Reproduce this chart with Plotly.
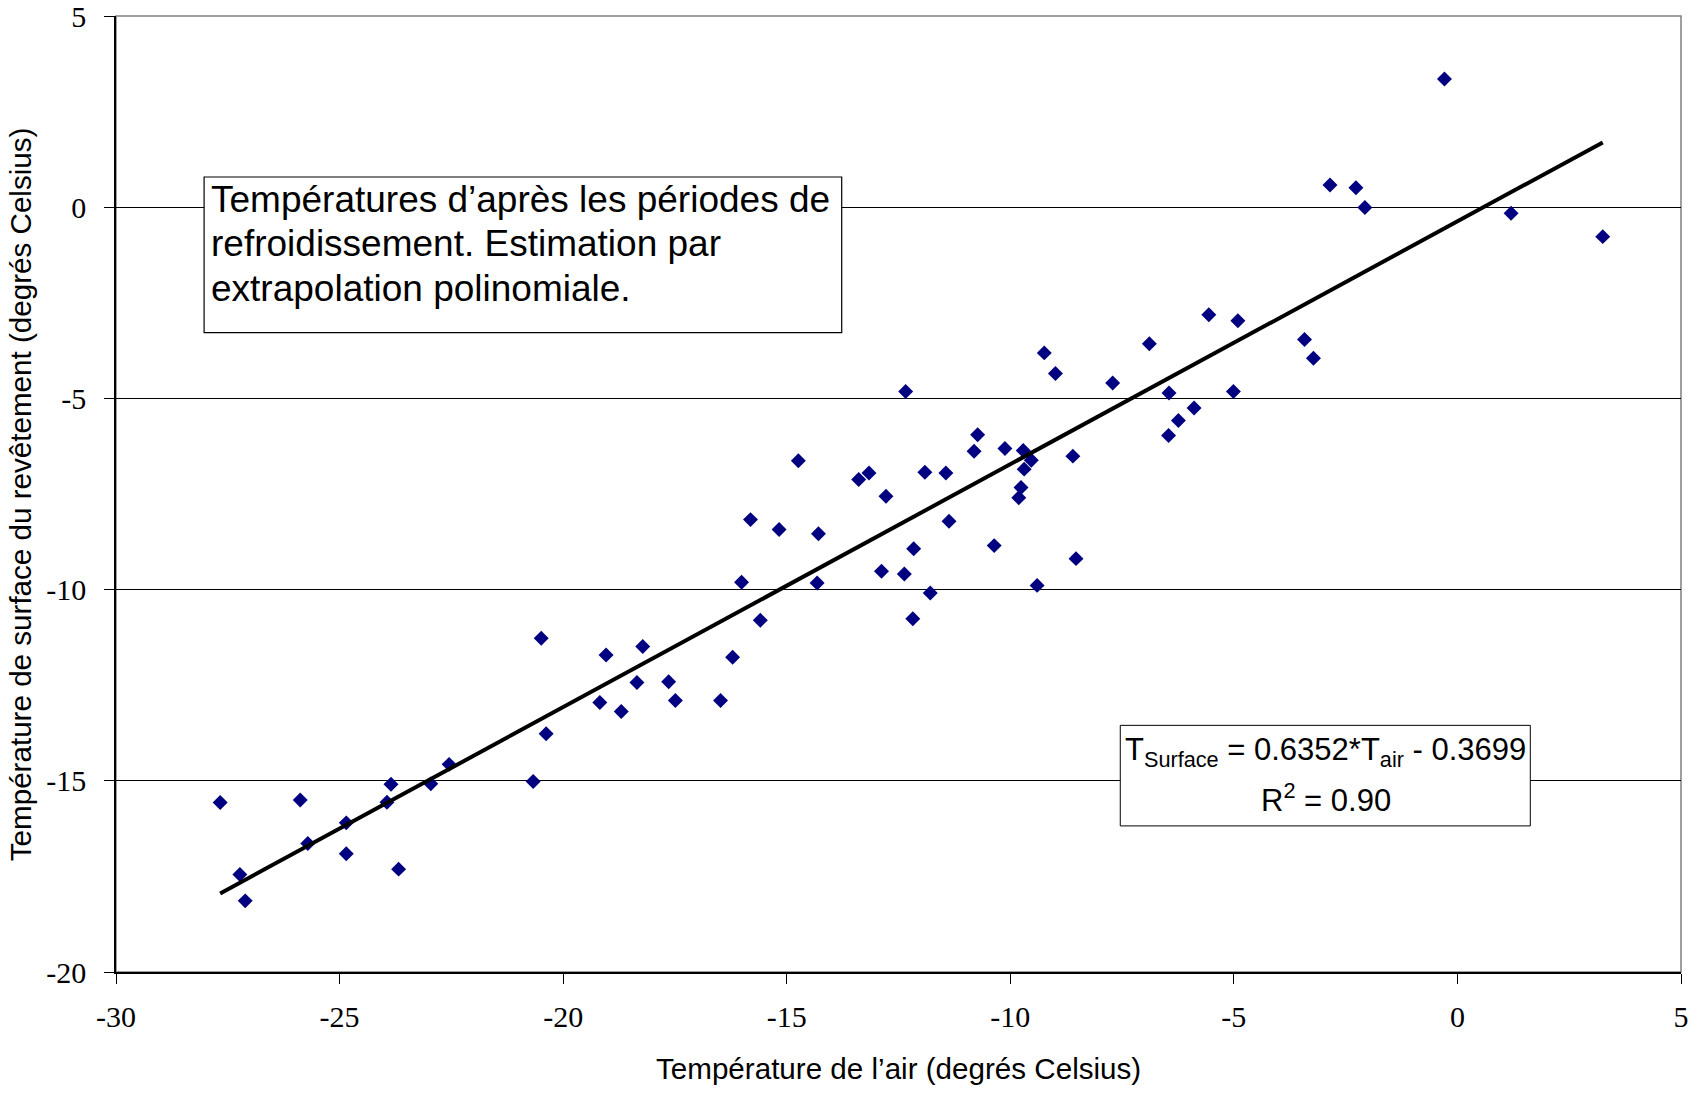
import plotly.graph_objects as go

# Data
t_air = [-27.67, -27.23, -27.11, -25.88, -25.71, -24.85, -24.85, -23.85, -23.94, -23.68,
         -22.96, -22.55, -20.67, -20.49, -20.38, -19.04, -19.18, -18.70, -18.35, -18.22,
         -17.64, -17.49, -16.48, -16.21, -16.01, -15.81, -15.59, -15.17, -14.74, -14.32,
         -14.29, -13.39, -13.16, -12.88, -12.78, -12.37, -12.34, -12.18, -12.16, -11.91,
         -11.79, -11.44, -11.37, -10.81, -10.73, -10.36, -10.12, -9.81, -9.76, -9.71,
         -9.69, -9.53, -9.40, -9.24, -8.99, -8.60, -8.53, -7.71, -6.89, -6.46,
         -6.45, -6.24, -5.89, -5.56, -5.01, -4.91, -3.42, -3.22, -2.85, -2.27,
         -2.07, -0.29, 1.20, 3.25]
t_surface = [-15.57, -17.45, -18.14, -15.50, -16.64, -16.10, -16.91, -15.09, -15.56, -17.31,
             -15.08, -14.57, -15.02, -11.27, -13.77, -11.71, -12.95, -13.19, -12.43, -11.49,
             -12.41, -12.90, -12.90, -11.77, -9.81, -8.17, -10.80, -8.43, -6.63, -9.83,
             -8.54, -7.12, -6.95, -9.52, -7.56, -9.59, -4.82, -10.76, -8.93, -6.93,
             -10.09, -6.95, -8.21, -6.38, -5.95, -8.85, -6.31, -7.60, -7.33, -6.36,
             -6.85, -6.62, -9.89, -3.81, -4.35, -6.51, -9.19, -4.60, -3.57, -5.97,
             -4.86, -5.58, -5.25, -2.81, -4.82, -2.97, -3.46, -3.95, 0.58, 0.51,
             -0.01, 3.35, -0.16, -0.77]

slope = 0.6352
intercept = -0.3699
trend_x = [min(t_air), max(t_air)]
trend_y = [slope * v + intercept for v in trend_x]

x_ticks = [-30, -25, -20, -15, -10, -5, 0, 5]
x_tick_labels = ["-30", "-25", "-20", "-15", "-10", "-5", "0", "5"]
y_ticks = [-20, -15, -10, -5, 0, 5]
y_tick_labels = ["-20", "-15", "-10", "-5", "0", "5"]

note_lines = ["Températures d’après les périodes de",
              "refroidissement. Estimation par",
              "extrapolation polinomiale."]
eq_lines = ["T<sub>Surface</sub> = 0.6352*T<sub>air</sub> - 0.3699",
            "R<sup>2</sup> = 0.90"]

fig = go.Figure()
fig.add_trace(go.Scatter(x=t_air, y=t_surface, mode="markers",
                         marker=dict(symbol="diamond", size=11.5, color="#000080",
                                     line=dict(width=0)),
                         showlegend=False, cliponaxis=False))
fig.add_trace(go.Scatter(x=trend_x, y=trend_y, mode="lines",
                         line=dict(color="black", width=4),
                         showlegend=False))

tick_font = dict(family="Liberation Serif", size=30, color="black")
title_font = dict(family="Liberation Sans", size=29.6, color="black")
note_font = dict(family="Liberation Sans", size=37, color="black")
eq_font = dict(family="Liberation Sans", size=31, color="black")

annotations = [
    dict(xref="paper", yref="paper", x=0.5, y=-0.101, xanchor="center", yanchor="middle",
         showarrow=False, text="Température de l’air (degrés Celsius)", font=title_font),
    dict(xref="paper", yref="paper", x=-0.0612, y=0.5, xanchor="center", yanchor="middle",
         textangle=-90, showarrow=False,
         text="Température de surface du revêtement (degrés Celsius)", font=title_font),
]
note_y = [0.20, -0.96, -2.12]
for txt, yy in zip(note_lines, note_y):
    annotations.append(dict(xref="x", yref="y", x=-27.91, y=yy, xanchor="left",
                            yanchor="middle", showarrow=False, text=txt, font=note_font))
eq_y = [-14.25, -15.44]
for txt, yy in zip(eq_lines, eq_y):
    annotations.append(dict(xref="x", yref="y", x=-2.95, y=yy, xanchor="center",
                            yanchor="middle", showarrow=False, text=txt, font=eq_font))

fig.update_layout(
    width=1701, height=1096,
    margin=dict(l=116, r=20, t=16, b=124, autoexpand=False),
    paper_bgcolor="white", plot_bgcolor="white",
    xaxis=dict(range=[-30, 5], tickvals=x_ticks, ticktext=x_tick_labels,
               ticks="outside", ticklen=10,
               tickcolor="black", showline=True, linecolor="black", linewidth=1.5,
               showgrid=False, zeroline=False, tickfont=tick_font,
               ticklabelstandoff=7, ticklabeloverflow="allow", automargin=False),
    yaxis=dict(range=[-20, 5], tickvals=y_ticks, ticktext=y_tick_labels,
               ticks="outside", ticklen=10,
               tickcolor="black", showline=True, linecolor="black", linewidth=1.5,
               showgrid=True, gridcolor="black", gridwidth=1, zeroline=False,
               tickfont=tick_font, ticklabelstandoff=12, ticklabeloverflow="allow",
               automargin=False),
    shapes=[
        dict(type="rect", xref="paper", yref="paper", x0=0, x1=1, y0=0, y1=1,
             line=dict(color="#808080", width=1.5), layer="below"),
        dict(type="rect", xref="x", yref="y", x0=-28.03, x1=-13.77, y0=-3.28, y1=0.79,
             line=dict(color="black", width=1.2), fillcolor="white", layer="between"),
        dict(type="rect", xref="x", yref="y", x0=-7.54, x1=1.63, y0=-16.18, y1=-13.55,
             line=dict(color="black", width=1), fillcolor="white", layer="between"),
    ],
    annotations=annotations,
)

fig.write_html("out.html", config={"displayModeBar": False},
               post_script="document.body.style.margin='0';document.body.style.overflow='hidden';")
